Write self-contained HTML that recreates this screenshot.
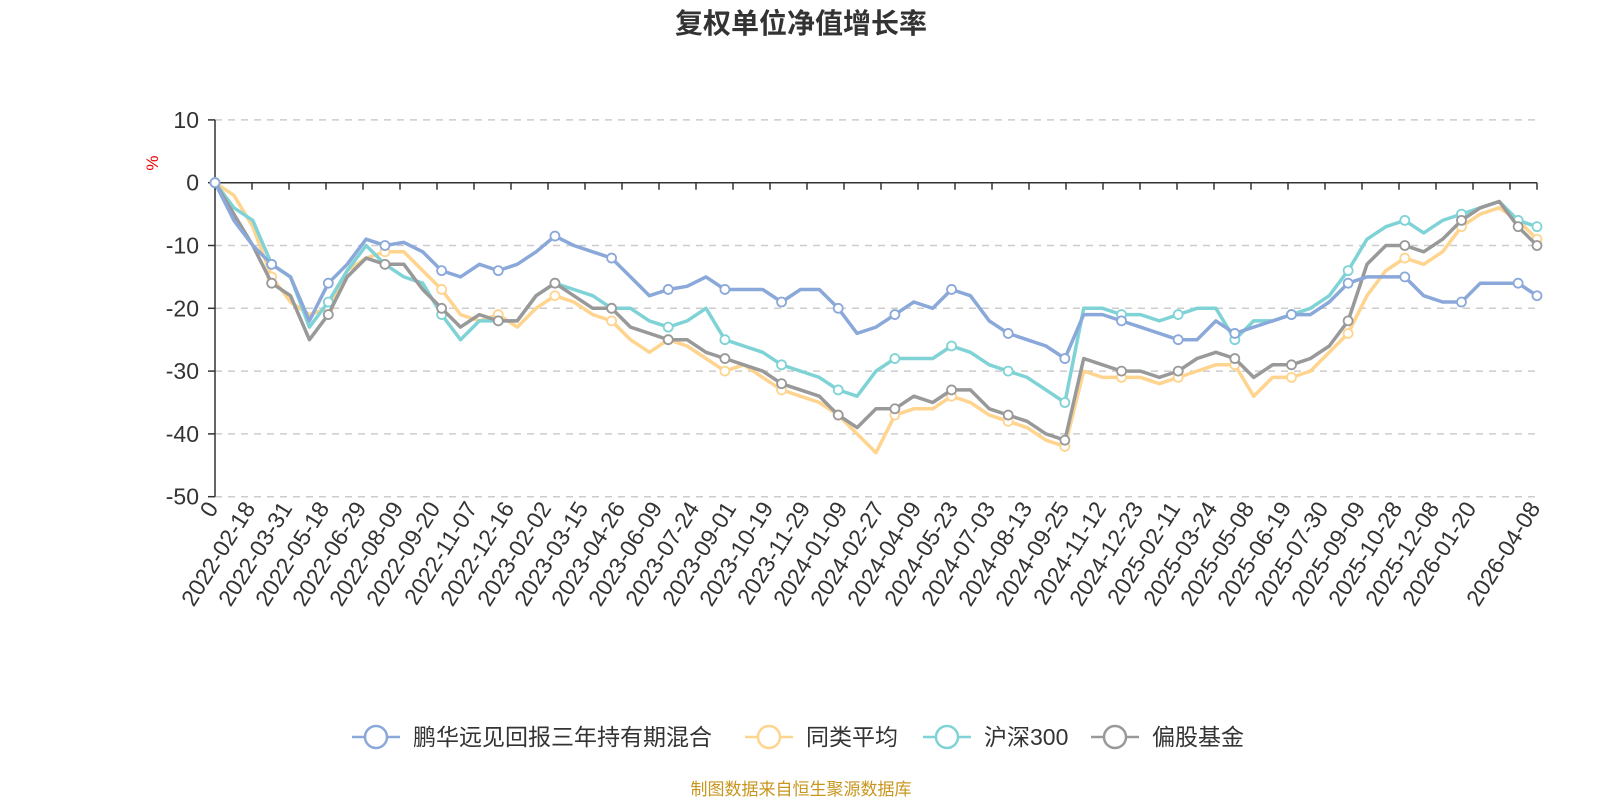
<!DOCTYPE html>
<html><head><meta charset="utf-8"><style>
body{margin:0;background:#fff;width:1600px;height:800px;overflow:hidden;font-family:"Liberation Sans","Noto Sans CJK SC",sans-serif;}
</style></head><body>
<svg id="chart" width="1600" height="800" xmlns="http://www.w3.org/2000/svg" style="font-family:'Liberation Sans','Noto Sans CJK SC',sans-serif">
<text x="801" y="33" text-anchor="middle" font-size="28" font-weight="bold" fill="#333">复权单位净值增长率</text>
<text x="158" y="163" font-size="17" fill="#e00" transform="rotate(-90 158 163)" text-anchor="middle">%</text>
<g id="grid"></g>
<g id="axes"></g>
<g id="series"></g>
<g id="legend"></g>
<text x="801" y="795" text-anchor="middle" font-size="17" fill="#c8961e">制图数据来自恒生聚源数据库</text>
</svg>
<script>
const tickLabels=["0","2022-02-18","2022-03-31","2022-05-18","2022-06-29","2022-08-09","2022-09-20","2022-11-07","2022-12-16","2023-02-02","2023-03-15","2023-04-26","2023-06-09","2023-07-24","2023-09-01","2023-10-19","2023-11-29","2024-01-09","2024-02-27","2024-04-09","2024-05-23","2024-07-03","2024-08-13","2024-09-25","2024-11-12","2024-12-23","2025-02-11","2025-03-24","2025-05-08","2025-06-19","2025-07-30","2025-09-09","2025-10-28","2025-12-08","2026-01-20"];
const lastLabel="2026-04-08";
const yTicks=[10,0,-10,-20,-30,-40,-50];
const fundValues=[0,-6,-10,-13,-15,-22,-16,-13,-9,-10,-9.5,-11,-14,-15,-13,-14,-13,-11,-8.5,-10,-11,-12,-15,-18,-17,-16.5,-15,-17,-17,-17,-19,-17,-17,-20,-24,-23,-21,-19,-20,-17,-18,-22,-24,-25,-26,-28,-21,-21,-22,-23,-24,-25,-25,-22,-24,-23,-22,-21,-21,-19,-16,-15,-15,-15,-18,-19,-19,-16,-16,-16,-18];
const peerValues=[0,-2,-7,-15,-19,-21,-20,-14,-12,-11,-11,-14,-17,-21,-22,-21,-23,-20,-18,-19,-21,-22,-25,-27,-25,-26,-28,-30,-29,-31,-33,-34,-35,-37,-40,-43,-37,-36,-36,-34,-35,-37,-38,-39,-41,-42,-30,-31,-31,-31,-32,-31,-30,-29,-29,-34,-31,-31,-30,-27,-24,-18,-14,-12,-13,-11,-7,-5,-4,-6,-9];
const hs300Values=[0,-4,-6,-13,-15,-23,-19,-14,-10,-13,-15,-16,-21,-25,-22,-22,-22,-18,-16,-17,-18,-20,-20,-22,-23,-22,-20,-25,-26,-27,-29,-30,-31,-33,-34,-30,-28,-28,-28,-26,-27,-29,-30,-31,-33,-35,-20,-20,-21,-21,-22,-21,-20,-20,-25,-22,-22,-21,-20,-18,-14,-9,-7,-6,-8,-6,-5,-4,-3,-6,-7];
const equityValues=[0,-5,-10,-16,-18,-25,-21,-15,-12,-13,-13,-17,-20,-23,-21,-22,-22,-18,-16,-18,-20,-20,-23,-24,-25,-25,-27,-28,-29,-30,-32,-33,-34,-37,-39,-36,-36,-34,-35,-33,-33,-36,-37,-38,-40,-41,-28,-29,-30,-30,-31,-30,-28,-27,-28,-31,-29,-29,-28,-26,-22,-13,-10,-10,-11,-9,-6,-4,-3,-7,-10];
const seriesNames=["鹏华远见回报三年持有期混合","同类平均","沪深300","偏股基金"];
const NS="http://www.w3.org/2000/svg";
const X0=215,X1=1537,Y0=182.7,PER10=62.8,TICKSTEP=37;
const yScale=v=>Y0-v*PER10/10;
const xPt=(i,n)=>X0+(X1-X0)*i/(n-1);
function mk(tag,attrs,parent){const e=document.createElementNS(NS,tag);for(const k in attrs)e.setAttribute(k,attrs[k]);parent.appendChild(e);return e;}
const grid=document.getElementById('grid'),axes=document.getElementById('axes'),ser=document.getElementById('series'),leg=document.getElementById('legend');
yTicks.forEach(v=>{
  if(v!==0){const g=mk('line',{x1:X0,x2:X1,y1:yScale(v),y2:yScale(v),stroke:'#ccc','stroke-dasharray':'7,6','stroke-width':1.5},grid);
  
  }
  const t=mk('text',{x:X0-16,y:yScale(v)+8,'text-anchor':'end','font-size':23,fill:'#333'},axes);t.textContent=v;
  
  
  mk('line',{x1:X0-7,x2:X0,y1:yScale(v),y2:yScale(v),stroke:'#333','stroke-width':1.5},axes);
});
const ya=mk('line',{x1:X0,x2:X0,y1:yScale(10),y2:yScale(-50),stroke:'#333','stroke-width':1.5},axes);


const xa=mk('line',{x1:X0,x2:X1,y1:Y0,y2:Y0,stroke:'#333','stroke-width':1.5},axes);


function xLabel(x,l){
  const t=mk('text',{x:x+4,y:508,'text-anchor':'end','font-size':23,fill:'#333',transform:`rotate(-58 ${x+4} 508)`},axes);t.textContent=l;
  
  
}
for(let i=0;i<=tickLabels.length;i++){
  const x=X0+TICKSTEP*i;
  mk('line',{x1:x,x2:x,y1:Y0,y2:Y0+7,stroke:'#333','stroke-width':1.5},axes);
  if(i<tickLabels.length) xLabel(x,tickLabels[i]);
}
mk('line',{x1:X1,x2:X1,y1:Y0,y2:Y0+7,stroke:'#333','stroke-width':1.5},axes);
xLabel(X1,lastLabel);
const colors=['#8aa8d9','#ffd48f','#7fd3d6','#999999'];
[fundValues,peerValues,hs300Values,equityValues].forEach((arr,s)=>{
  const g=mk('g',{},ser);
  
  
  const d=arr.map((v,i)=>(i?'L':'M')+xPt(i,arr.length).toFixed(1)+','+yScale(v).toFixed(1)).join(' ');
  const p=mk('path',{d,fill:'none',stroke:colors[s],'stroke-width':3.5,'stroke-linejoin':'round'},g);
  
  
  arr.forEach((v,i)=>{if(i%3===0||i===arr.length-1){const c=mk('circle',{cx:xPt(i,arr.length),cy:yScale(v),r:4.5,fill:'#fff',stroke:colors[s],'stroke-width':1.8},g);
    
    }});
});
ser.appendChild(ser.firstChild);
const legX=[352,745,923,1091];
seriesNames.forEach((n,s)=>{
  const g=mk('g',{},leg);
  
  
  const x=legX[s],y=737;
  mk('line',{x1:x,x2:x+48,y1:y,y2:y,stroke:colors[s],'stroke-width':2.5},g);
  mk('circle',{cx:x+24,cy:y,r:11,fill:'#fff',stroke:colors[s],'stroke-width':2.5},g);
  const t=mk('text',{x:x+61,y:y+8,'font-size':23,fill:'#333'},g);t.textContent=n;
});
</script>
</body></html>
